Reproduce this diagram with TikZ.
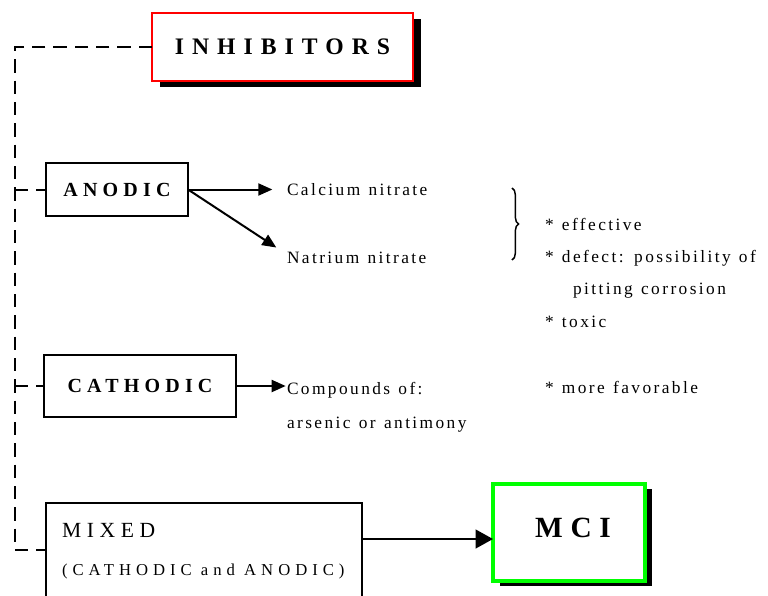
\documentclass[tikz,border=0pt]{standalone}
\usepackage{fontspec}
\setmainfont{Liberation Serif}
\newfontfamily\tA[LetterSpace=14]{Liberation Serif}
\newfontfamily\tD[LetterSpace=30]{Liberation Serif}
\newfontfamily\tB[LetterSpace=26]{Liberation Serif}
\newfontfamily\tC[LetterSpace=34]{Liberation Serif}
\newcommand\smalltxtfont{\tA\fontsize{13pt}{15pt}\selectfont\spaceskip=6.2pt\relax}
\usetikzlibrary{arrows.meta,decorations.pathreplacing}
\definecolor{boxred}{RGB}{255,0,0}
\definecolor{boxgreen}{RGB}{0,255,0}
\tikzset{
  blackbox/.style={draw=black,line width=1.5pt,fill=white,inner sep=0pt,outer sep=0pt},
  shadowbox/.style={fill=black,draw=none,inner sep=0pt,outer sep=0pt},
  dashline/.style={line width=1.5pt,dash pattern=on 10pt off 6pt},
  arr/.style={line width=1.5pt,-{Triangle[length=10.5pt,width=9pt]}},
  bigarr/.style={line width=1.5pt,-{Triangle[length=13pt,width=14pt]}},
  txt/.style={anchor=base west,inner sep=0pt,outer sep=0pt,font=\smalltxtfont},
}
\begin{document}
\begin{tikzpicture}[x=0.75pt,y=-0.75pt]
\useasboundingbox (0,0) rectangle (768,596);
\clip (0,0) rectangle (768,596);
% INHIBITORS
\node[shadowbox,minimum width=195.75pt,minimum height=51pt] (inhs) at (290.5,53) {};
\node[blackbox,draw=boxred,minimum width=195.75pt,minimum height=51pt,
  font=\tC\fontsize{17.75pt}{20pt}\selectfont\bfseries] (inh) at (282.5,47) {INHIBITORS};
% ANODIC
\node[blackbox,minimum width=106.5pt,minimum height=39.75pt,
  font=\tB\fontsize{15pt}{18pt}\selectfont\bfseries] (anodic) at (117,189.5) {ANODIC};
% CATHODIC
\node[blackbox,minimum width=144pt,minimum height=46.5pt,
  font=\tB\fontsize{15pt}{18pt}\selectfont\bfseries] (cathodic) at (140,386) {CATHODIC};
% MIXED
\node[blackbox,anchor=north west,minimum width=237pt,minimum height=105pt] (mixed) at (46,503) {};
\node[txt,font=\tB\fontsize{16.2pt}{19pt}\selectfont] (mixedt) at (62,537) {MIXED};
\node[txt,font=\tD\fontsize{12.5pt}{15pt}\selectfont] (mixedsub) at (62,575) {(CATHODIC and ANODIC)};
% MCI
\node[shadowbox,minimum width=114pt,minimum height=72.75pt] (mcis) at (576,537.5) {};
\node[blackbox,draw=boxgreen,line width=2.6pt,minimum width=114pt,minimum height=72.75pt] (mci) at (569,532.5) {};
\node[anchor=base,inner sep=0pt,font=\tB\fontsize{22pt}{26pt}\selectfont\bfseries] (mcit) at (573,537) {MCI};
% texts
\node[txt] (calc) at (287,195) {Calcium nitrate};
\node[txt] (natr) at (287,263) {Natrium nitrate};
\node[txt] (eff) at (545,230) {* effective};
\node[txt] (def) at (545,262) {* defect: possibility of};
\node[txt] (pit) at (573,294) {pitting corrosion};
\node[txt] (tox) at (545,327) {* toxic};
\node[txt] (comp) at (287,394) {Compounds of:};
\node[txt] (ars) at (287,428) {arsenic or antimony};
\node[txt] (fav) at (545,393) {* more favorable};
% brace
\coordinate (bt) at (512,188);
\coordinate (bb) at (512,260);
\draw[line width=1.1pt,decorate,decoration={brace,amplitude=5pt}] (bt) -- (bb);
% dashed tree
\coordinate (tl) at (15,47);
\coordinate (db) at (15,550);
\draw[dashline] (inh.west) -- (tl) -- (db) -- (db -| mixed.west);
\draw[dashline] (tl |- anodic.west) -- (anodic.west);
\draw[dashline] (tl |- cathodic.west) -- (cathodic.west);
% arrows
\draw[arr] (anodic.east) -- ([xshift=-11pt]anodic.east -| calc.west);
\draw[arr] (anodic.east) -- ([xshift=-8pt,yshift=3pt]natr.north west);
\draw[arr] (cathodic.east) -- ([xshift=-1pt]cathodic.east -| comp.west);
\coordinate (ma) at (362,539);
\draw[bigarr] (ma) -- (ma -| mci.west);
\end{tikzpicture}
\end{document}
